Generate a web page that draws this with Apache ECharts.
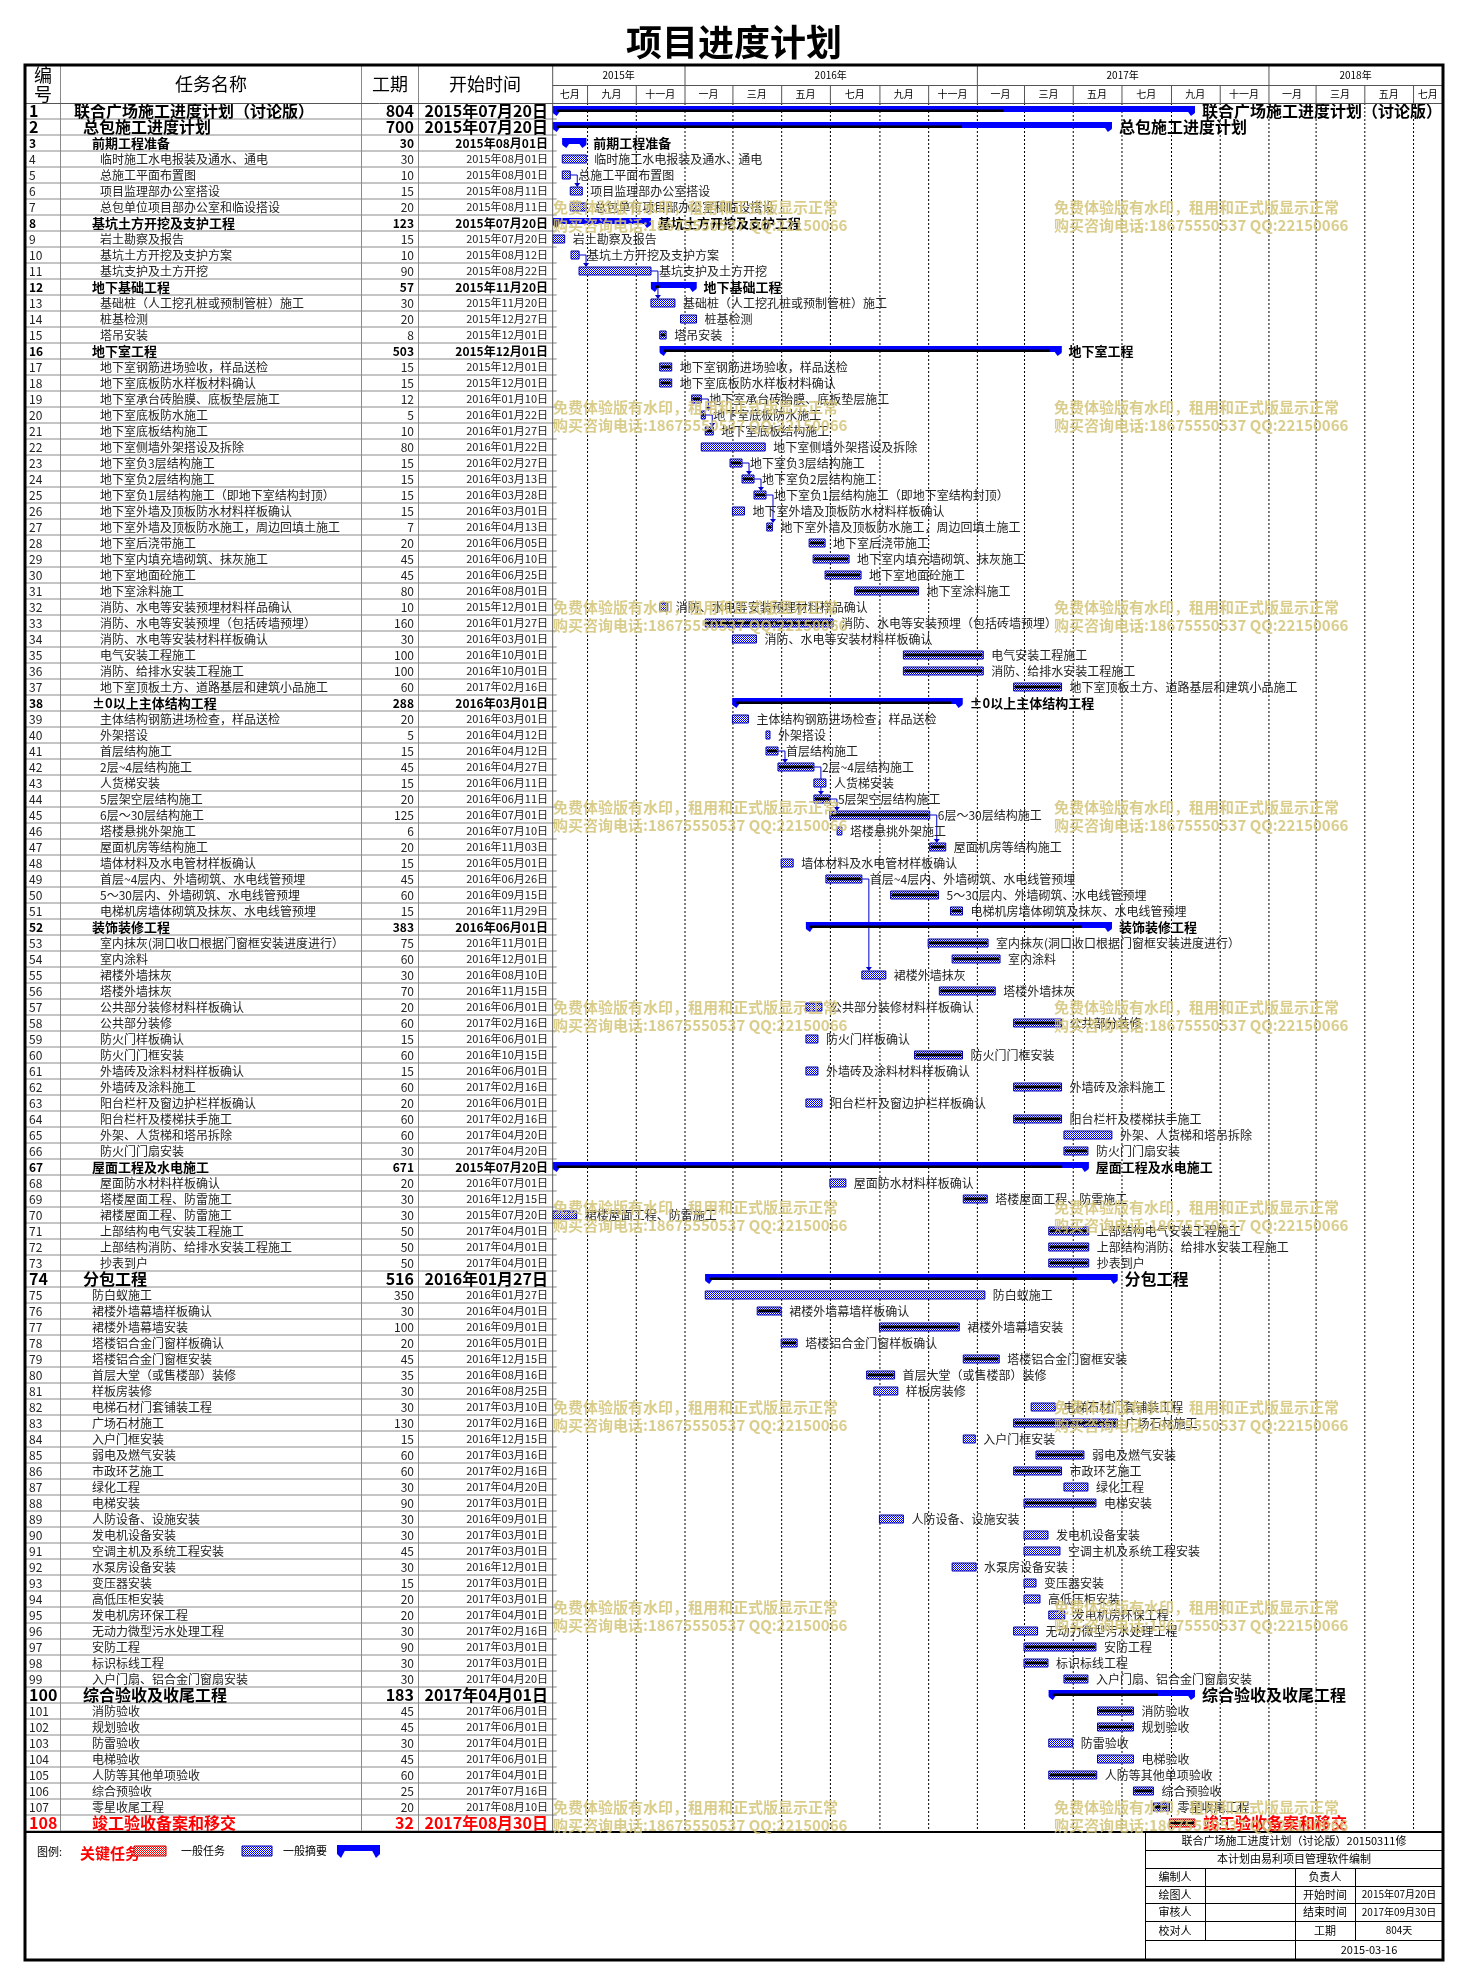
<!DOCTYPE html>
<html><head><meta charset="utf-8">
<script src="https://cdn.jsdelivr.net/npm/echarts/dist/echarts.min.js"></script>
<style>html,body{margin:0;padding:0;background:#fff}#c{width:1468px;height:1985px}</style>
</head><body><div id="c"></div>
<script>
// ---------------- DATA ----------------
const names = [
'联合广场施工进度计划（讨论版）','总包施工进度计划','前期工程准备','临时施工水电报装及通水、通电','总施工平面布置图',
'项目监理部办公室搭设','总包单位项目部办公室和临设搭设','基坑土方开挖及支护工程','岩土勘察及报告','基坑土方开挖及支护方案',
'基坑支护及土方开挖','地下基础工程','基础桩（人工挖孔桩或预制管桩）施工','桩基检测','塔吊安装',
'地下室工程','地下室钢筋进场验收，样品送检','地下室底板防水样板材料确认','地下室承台砖胎膜、底板垫层施工','地下室底板防水施工',
'地下室底板结构施工','地下室侧墙外架搭设及拆除','地下室负3层结构施工','地下室负2层结构施工','地下室负1层结构施工（即地下室结构封顶）',
'地下室外墙及顶板防水材料样板确认','地下室外墙及顶板防水施工，周边回填土施工','地下室后浇带施工','地下室内填充墙砌筑、抹灰施工','地下室地面砼施工',
'地下室涂料施工','消防、水电等安装预埋材料样品确认','消防、水电等安装预埋（包括砖墙预埋）','消防、水电等安装材料样板确认','电气安装工程施工',
'消防、给排水安装工程施工','地下室顶板土方、道路基层和建筑小品施工','±0以上主体结构工程','主体结构钢筋进场检查，样品送检','外架搭设',
'首层结构施工','2层~4层结构施工','人货梯安装','5层架空层结构施工','6层～30层结构施工',
'塔楼悬挑外架施工','屋面机房等结构施工','墙体材料及水电管材样板确认','首层~4层内、外墙砌筑、水电线管预埋','5～30层内、外墙砌筑、水电线管预埋',
'电梯机房墙体砌筑及抹灰、水电线管预埋','装饰装修工程','室内抹灰(洞口收口根据门窗框安装进度进行）','室内涂料','裙楼外墙抹灰',
'塔楼外墙抹灰','公共部分装修材料样板确认','公共部分装修','防火门样板确认','防火门门框安装',
'外墙砖及涂料材料样板确认','外墙砖及涂料施工','阳台栏杆及窗边护栏样板确认','阳台栏杆及楼梯扶手施工','外架、人货梯和塔吊拆除',
'防火门门扇安装','屋面工程及水电施工','屋面防水材料样板确认','塔楼屋面工程、防雷施工','裙楼屋面工程、防雷施工',
'上部结构电气安装工程施工','上部结构消防、给排水安装工程施工','抄表到户','分包工程','防白蚁施工',
'裙楼外墙幕墙样板确认','裙楼外墙幕墙安装','塔楼铝合金门窗样板确认','塔楼铝合金门窗框安装','首层大堂（或售楼部）装修',
'样板房装修','电梯石材门套铺装工程','广场石材施工','入户门框安装','弱电及燃气安装',
'市政环艺施工','绿化工程','电梯安装','人防设备、设施安装','发电机设备安装',
'空调主机及系统工程安装','水泵房设备安装','变压器安装','高低压柜安装','发电机房环保工程',
'无动力微型污水处理工程','安防工程','标识标线工程','入户门扇、铝合金门窗扇安装','综合验收及收尾工程',
'消防验收','规划验收','防雷验收','电梯验收','人防等其他单项验收',
'综合预验收','零星收尾工程','竣工验收备案和移交'
];
const durations = [
804,700,30,30,10,15,20,123,15,10,
90,57,30,20,8,503,15,15,12,5,
10,80,15,15,15,15,7,20,45,45,
80,10,160,30,100,100,60,288,20,5,
15,45,15,20,125,6,20,15,45,60,
15,383,75,60,30,70,20,60,15,60,
15,60,20,60,60,30,671,20,30,30,
50,50,50,516,350,30,100,20,45,35,
30,30,130,15,60,60,30,90,30,30,
45,30,15,20,20,30,90,30,30,183,
45,45,30,45,60,25,20,32
];
const starts = [
'2015-07-20','2015-07-20','2015-08-01','2015-08-01','2015-08-01','2015-08-11','2015-08-11','2015-07-20','2015-07-20','2015-08-12',
'2015-08-22','2015-11-20','2015-11-20','2015-12-27','2015-12-01','2015-12-01','2015-12-01','2015-12-01','2016-01-10','2016-01-22',
'2016-01-27','2016-01-22','2016-02-27','2016-03-13','2016-03-28','2016-03-01','2016-04-13','2016-06-05','2016-06-10','2016-06-25',
'2016-08-01','2015-12-01','2016-01-27','2016-03-01','2016-10-01','2016-10-01','2017-02-16','2016-03-01','2016-03-01','2016-04-12',
'2016-04-12','2016-04-27','2016-06-11','2016-06-11','2016-07-01','2016-07-10','2016-11-03','2016-05-01','2016-06-26','2016-09-15',
'2016-11-29','2016-06-01','2016-11-01','2016-12-01','2016-08-10','2016-11-15','2016-06-01','2017-02-16','2016-06-01','2016-10-15',
'2016-06-01','2017-02-16','2016-06-01','2017-02-16','2017-04-20','2017-04-20','2015-07-20','2016-07-01','2016-12-15','2015-07-20',
'2017-04-01','2017-04-01','2017-04-01','2016-01-27','2016-01-27','2016-04-01','2016-09-01','2016-05-01','2016-12-15','2016-08-16',
'2016-08-25','2017-03-10','2017-02-16','2016-12-15','2017-03-16','2017-02-16','2017-04-20','2017-03-01','2016-09-01','2017-03-01',
'2017-03-01','2016-12-01','2017-03-01','2017-03-01','2017-04-01','2017-02-16','2017-03-01','2017-03-01','2017-04-20','2017-04-01',
'2017-06-01','2017-06-01','2017-04-01','2017-06-01','2017-04-01','2017-07-16','2017-08-10','2017-08-30'
];
const summaryRows = [1,2,3,8,12,16,38,52,67,74,100];
const bigRows = [1,2,74,100,108];
const criticalRows = [108];
// tasks whose bar carries the black centre line
const blackLineRows = [15,17,18,19,20,21,23,24,25,27,28,29,30,31,33,35,36,37,41,42,44,45,47,49,50,51,53,54,56,58,60,62,64,66,69,71,72,73,76,77,78,79,80,83,85,86,88,97,98,99,101,102,105,106,107,108];
// end of black line on summary bars (fraction of the bar)
const summaryBlack = {1:0.70,2:0.73,3:0,8:0,12:0.1,16:0.97,38:0.95,52:0.9,67:0.95,74:0.9,100:0.74};
// dependency links [predecessor row, successor row]
const links = [[5,6],[10,11],[11,13],[19,20],[20,21],[23,24],[24,25],[25,27],[41,42],[42,44],[44,45],[45,47],[49,55]];
const monthBounds = ['2015-07-20','2015-09-01','2015-11-01','2016-01-01','2016-03-01','2016-05-01','2016-07-01','2016-09-01','2016-11-01',
  '2017-01-01','2017-03-01','2017-05-01','2017-07-01','2017-09-01','2017-11-01','2018-01-01','2018-03-01','2018-05-01','2018-07-01','2018-08-07'];
const monthLabels = ['七月','九月','十一月','一月','三月','五月','七月','九月','十一月','一月','三月','五月','七月','九月','十一月','一月','三月','五月','七月'];
const yearBounds = ['2015-07-20','2016-01-01','2017-01-01','2018-01-01','2018-08-07'];
const yearLabels = ['2015年','2016年','2017年','2018年'];
const footerInfo = {title:'联合广场施工进度计划（讨论版）20150311修', made:'本计划由易利项目管理软件编制',
  start:'2015年07月20日', end:'2017年09月30日', dur:'804天', date:'2015-03-16'};
const watermark1 = '免费体验版有水印，租用和正式版显示正常';
const watermark2 = '购买咨询电话:18675550537 QQ:22150066';

// ---------------- HELPERS ----------------
const DAY = 86400000;
function ts(s){const a=s.split('-').map(Number);return Date.UTC(a[0],a[1]-1,a[2]);}
function fmtDate(s){const a=s.split('-');return a[0]+'年'+a[1]+'月'+a[2]+'日';}
function level(r){
  if(r===1) return 0;
  if(r===2||r===74||r===100) return 1;
  if(summaryRows.indexOf(r)>=0) return 2;
  if(r>74) return 2;
  return 3;
}
function pattern(color){
  const cv=document.createElement('canvas');cv.width=2;cv.height=2;
  const g=cv.getContext('2d');g.fillStyle='#ffffff';g.fillRect(0,0,2,2);
  g.fillStyle=color;g.fillRect(0,0,1,1);g.fillRect(1,1,1,1);
  return {image:cv,repeat:'repeat'};
}
const bluePat = pattern('#0000ff');
const redPat = pattern('#ff0000');
const FF = '"Noto Sans CJK SC","Noto Sans",sans-serif';
const f = (sz,b)=> (b?'bold ':'')+sz+'px '+FF;

const rowIds = names.map((_,i)=>String(i+1));
const tableData = names.map((_,i)=>[0,i]);
const ganttData = names.map((_,i)=>[i, ts(starts[i]), ts(starts[i])+durations[i]*DAY]);
const monthData = monthLabels.map((_,i)=>[ts(monthBounds[i]), ts(monthBounds[i+1]), i]);
const yearData = yearLabels.map((_,i)=>[ts(yearBounds[i]), ts(yearBounds[i+1]), i]);
const linkData = links.map(l=>[l[0]-1,l[1]-1, ts(starts[l[0]-1])+durations[l[0]-1]*DAY, ts(starts[l[1]-1])]);

const HEAD_TOP=65, YEAR_BOTTOM=85, GRID_TOP=103, ROWH=16, NROW=names.length;
const GRID_BOTTOM = GRID_TOP + ROWH*NROW;
const COL_NO=60, COL_DUR=361, COL_DATE=418;

// ---------------- RENDERERS ----------------
function renderTable(params, api){
  const i = api.value(1), r=i+1;
  const c = api.coord([0,i]);
  const h = api.size([0,1])[1];
  const t=c[1]-h/2, b=c[1]+h/2, yc=c[1];
  const L=params.coordSys.x, R=params.coordSys.x+params.coordSys.width;
  const big = bigRows.indexOf(r)>=0, sum = summaryRows.indexOf(r)>=0;
  const color = criticalRows.indexOf(r)>=0 ? '#ff0000' : (big||sum ? '#000' : '#222');
  const lv = level(r);
  const nameX = [74,83,92,100][lv];
  const ch = [];
  ch.push({type:'line',shape:{x1:L,y1:b,x2:R+4,y2:b},style:{stroke:'#8a8a8a',lineWidth:1}});
  [COL_NO,COL_DUR,COL_DATE].forEach(x=>ch.push({type:'line',shape:{x1:x+0.5,y1:t,x2:x+0.5,y2:b},style:{stroke:'#8a8a8a',lineWidth:1}}));
  const nf = big ? f(16,true) : (sum ? f(12,true) : f(12,false));
  const df = big ? f(16,true) : (sum ? f(12,true) : f(11,false));
  ch.push({type:'text',style:{text:String(r),x:29,y:yc,font:nf,fill:color,textAlign:'left',textVerticalAlign:'middle'}});
  ch.push({type:'text',style:{text:names[i],x:nameX,y:yc,font:big?f(16,true):(sum?f(13,true):f(12,false)),fill:color,textAlign:'left',textVerticalAlign:'middle'}});
  ch.push({type:'text',style:{text:String(durations[i]),x:414,y:yc,font:nf,fill:color,textAlign:'right',textVerticalAlign:'middle'}});
  ch.push({type:'text',style:{text:fmtDate(starts[i]),x:548,y:yc,font:df,fill:color,textAlign:'right',textVerticalAlign:'middle'}});
  return {type:'group',children:ch};
}

function renderGantt(params, api){
  const i=api.value(0), r=i+1;
  const p0=api.coord([api.value(1),i]), p1=api.coord([api.value(2),i]);
  const h=api.size([0,1])[1];
  const t=p0[1]-h/2, yc=p0[1];
  const x0=p0[0], x1=p1[0];
  const ch=[];
  const big = bigRows.indexOf(r)>=0;
  if(summaryRows.indexOf(r)>=0){
    ch.push({type:'rect',shape:{x:x0,y:t+3,width:x1-x0,height:6},style:{fill:'#0000ff'}});
    ch.push({type:'polygon',shape:{points:[[x0,t+3],[x0+11,t+3],[x0+4,t+13],[x0,t+10]]},style:{fill:'#0000ff'}});
    ch.push({type:'polygon',shape:{points:[[x1-11,t+3],[x1,t+3],[x1,t+10],[x1-4,t+13]]},style:{fill:'#0000ff'}});
    const fr = summaryBlack[r]||0;
    if(fr>0){
      ch.push({type:'rect',shape:{x:x0+4,y:t+6.5,width:(x1-x0-4)*fr,height:2.5},style:{fill:'#000'}});
    }
    ch.push({type:'text',style:{text:names[i],x:x1+7,y:yc,font:big?f(16,true):f(13,true),fill:'#000',textAlign:'left',textVerticalAlign:'middle'}});
  } else {
    const crit = criticalRows.indexOf(r)>=0;
    ch.push({type:'rect',shape:{x:x0,y:t+4,width:x1-x0,height:8},style:{fill:crit?redPat:bluePat,stroke:crit?'#cc0000':'#0000aa',lineWidth:1}});
    if(blackLineRows.indexOf(r)>=0){
      ch.push({type:'rect',shape:{x:x0+1,y:t+6.5,width:x1-x0-2,height:3},style:{fill:'#000'}});
    }
    ch.push({type:'text',style:{text:names[i],x:x1+8,y:yc,font:crit?f(16,true):f(12,false),fill:crit?'#ff0000':'#222',textAlign:'left',textVerticalAlign:'middle'}});
  }
  return {type:'group',children:ch};
}

function renderMonth(params, api){
  const a=api.coord([api.value(0),0])[0], b=api.coord([api.value(1),0])[0];
  const k=api.value(2);
  const ch=[];
  if(k>0){
    ch.push({type:'line',shape:{x1:a+0.5,y1:YEAR_BOTTOM,x2:a+0.5,y2:GRID_TOP},style:{stroke:'#555',lineWidth:1}});
    ch.push({type:'line',shape:{x1:a+0.5,y1:GRID_TOP,x2:a+0.5,y2:GRID_BOTTOM},style:{stroke:'#000',lineWidth:1,lineDash:[2,2]}});
  }
  ch.push({type:'text',style:{text:monthLabels[k],x:(a+b)/2,y:(YEAR_BOTTOM+GRID_TOP)/2,font:f(10,false),fill:'#000',textAlign:'center',textVerticalAlign:'middle'}});
  return {type:'group',children:ch};
}
function renderYear(params, api){
  const a=api.coord([api.value(0),0])[0], b=api.coord([api.value(1),0])[0];
  const k=api.value(2);
  const ch=[];
  if(k>0) ch.push({type:'line',shape:{x1:a+0.5,y1:HEAD_TOP,x2:a+0.5,y2:YEAR_BOTTOM},style:{stroke:'#555',lineWidth:1}});
  ch.push({type:'text',style:{text:yearLabels[k],x:(a+b)/2,y:(HEAD_TOP+YEAR_BOTTOM)/2,font:f(10,false),fill:'#000',textAlign:'center',textVerticalAlign:'middle'}});
  return {type:'group',children:ch};
}
function renderLink(params, api){
  const pi=api.value(0), si=api.value(1);
  const pe=api.coord([api.value(2),pi]);
  const ss=api.coord([api.value(3),si]);
  const h=api.size([0,1])[1];
  const vx=pe[0]+7, ty=ss[1]-h/2+4;
  return {type:'group',children:[
    {type:'polyline',shape:{points:[[pe[0],pe[1]],[vx,pe[1]],[vx,ty-3]]},style:{stroke:'#0000cc',lineWidth:1,fill:null}},
    {type:'polygon',shape:{points:[[vx-3,ty-4],[vx+3,ty-4],[vx,ty]]},style:{fill:'#0000cc'}}
  ]};
}

// ---------------- STATIC GRAPHICS ----------------
const g = [];
g.push({type:'text',left:'center',top:24,style:{text:'项目进度计划',font:'bold 36px '+FF,fill:'#000'}});
const hl = (x1,y1,x2,y2,w,c)=>g.push({type:'line',shape:{x1,y1,x2,y2},style:{stroke:c||'#000',lineWidth:w||1},z:5});
hl(552.7,YEAR_BOTTOM+0.5,1443,YEAR_BOTTOM+0.5,1,'#555');
hl(25,GRID_TOP+0.5,1443,GRID_TOP+0.5,1,'#555');
[COL_NO,COL_DUR,COL_DATE].forEach(x=>hl(x+0.5,HEAD_TOP,x+0.5,GRID_TOP,1,'#8a8a8a'));
hl(552.7,HEAD_TOP,552.7,GRID_BOTTOM,1,'#555');
const ht=(t,x,y,font,al,c)=>g.push({type:'text',x:x,y:y,style:{text:t,font:font,fill:c||'#000',textAlign:al||'center',textVerticalAlign:'middle'},z:6});
ht('编',43,75,f(18,false));ht('号',43,94,f(18,false));
ht('任务名称',211,84,f(18,false));
ht('工期',390,84,f(18,false));
ht('开始时间',485,84,f(18,false));
hl(25,GRID_BOTTOM+1,1443,GRID_BOTTOM+1,2,'#000');
g.push({type:'rect',shape:{x:25,y:65,width:1418,height:1895},style:{fill:null,stroke:'#000',lineWidth:3},z:7});
// legend
ht('图例:',37,1852,f(11,false),'left');
ht('关键任务',80,1853,f(15,true),'left','#ff0000');
g.push({type:'rect',shape:{x:134,y:1846,width:32,height:10},style:{fill:redPat,stroke:'#cc0000'},z:6});
ht('一般任务',181,1851,f(11,false),'left');
g.push({type:'rect',shape:{x:242,y:1846,width:30,height:10},style:{fill:bluePat,stroke:'#0000aa'},z:6});
ht('一般摘要',283,1851,f(11,false),'left');
g.push({type:'rect',shape:{x:337,y:1845,width:43,height:6},style:{fill:'#0000ff'},z:6});
g.push({type:'polygon',shape:{points:[[337,1845],[348,1845],[341,1858],[337,1854]]},style:{fill:'#0000ff'},z:6});
g.push({type:'polygon',shape:{points:[[369,1845],[380,1845],[380,1854],[376,1858]]},style:{fill:'#0000ff'},z:6});
// footer info table
const FX=[1145,1205,1295,1355,1443], FY=[1832,1850,1868,1886,1903,1921,1940,1959];
hl(FX[0]+0.5,FY[0],FX[0]+0.5,FY[7]);
for(let k=1;k<7;k++) hl(FX[0],FY[k]+0.5,FX[4],FY[k]+0.5);
for(let k=2;k<6;k++){ [1,2,3].forEach(c=>hl(FX[c]+0.5,FY[k],FX[c]+0.5,FY[k+1])); }
hl(FX[2]+0.5,FY[6],FX[2]+0.5,FY[7]);
const fm=(k)=>(FY[k]+FY[k+1])/2;
ht(footerInfo.title,1294,fm(0),f(11,false));
ht(footerInfo.made,1294,fm(1),f(11,false));
const cm=(c)=>(FX[c]+FX[c+1])/2;
[['编制人','','负责人',''],['绘图人','','开始时间',footerInfo.start],['审核人','','结束时间',footerInfo.end],['校对人','','工期',footerInfo.dur]].forEach((row,k)=>{
  row.forEach((txt,c)=>{ if(txt) ht(txt,cm(c),fm(k+2),f(c===3?10:11,false)); });
});
ht(footerInfo.date,(FX[2]+FX[4])/2,fm(6),f(11,false));
// watermark
const WM='rgba(212,196,120,0.85)';
for(let k=0;k<9;k++){
  [553,1054].forEach(x=>{
    ht(watermark1,x,207+200*k,'bold 15px '+FF,'left',WM);
    ht(watermark2,x,225+200*k,'bold 15px '+FF,'left',WM);
  });
}
g.forEach(e=>{ if(e.z===undefined) e.z=5; if(e.style && e.style.fill===WM) e.z=20; });

// ---------------- CHART ----------------
const chart = echarts.init(document.getElementById('c'), null, {renderer:'canvas'});
chart.setOption({
  animation:false,
  textStyle:{fontFamily:FF},
  grid:[
    {left:25,top:GRID_TOP,width:527.7,height:ROWH*NROW},
    {left:552.7,top:GRID_TOP,width:889.9,height:ROWH*NROW}
  ],
  xAxis:[
    {gridIndex:0,type:'value',min:0,max:527.7,show:false},
    {gridIndex:1,type:'time',min:ts('2015-07-20'),max:ts('2018-08-07'),show:false}
  ],
  yAxis:[
    {gridIndex:0,type:'category',data:rowIds,inverse:true,show:false},
    {gridIndex:1,type:'category',data:rowIds,inverse:true,show:false}
  ],
  graphic:g,
  series:[
    {type:'custom',xAxisIndex:0,yAxisIndex:0,renderItem:renderTable,data:tableData,encode:{x:0,y:1},z:2},
    {type:'custom',xAxisIndex:1,yAxisIndex:1,renderItem:renderYear,data:yearData,encode:{x:[0,1]},z:2},
    {type:'custom',xAxisIndex:1,yAxisIndex:1,renderItem:renderMonth,data:monthData,encode:{x:[0,1]},z:1},
    {type:'custom',xAxisIndex:1,yAxisIndex:1,renderItem:renderLink,data:linkData,encode:{x:[2,3],y:[0,1]},z:3},
    {type:'custom',xAxisIndex:1,yAxisIndex:1,renderItem:renderGantt,data:ganttData,encode:{y:0,x:[1,2]},z:4}
  ]
});
</script></body></html>
